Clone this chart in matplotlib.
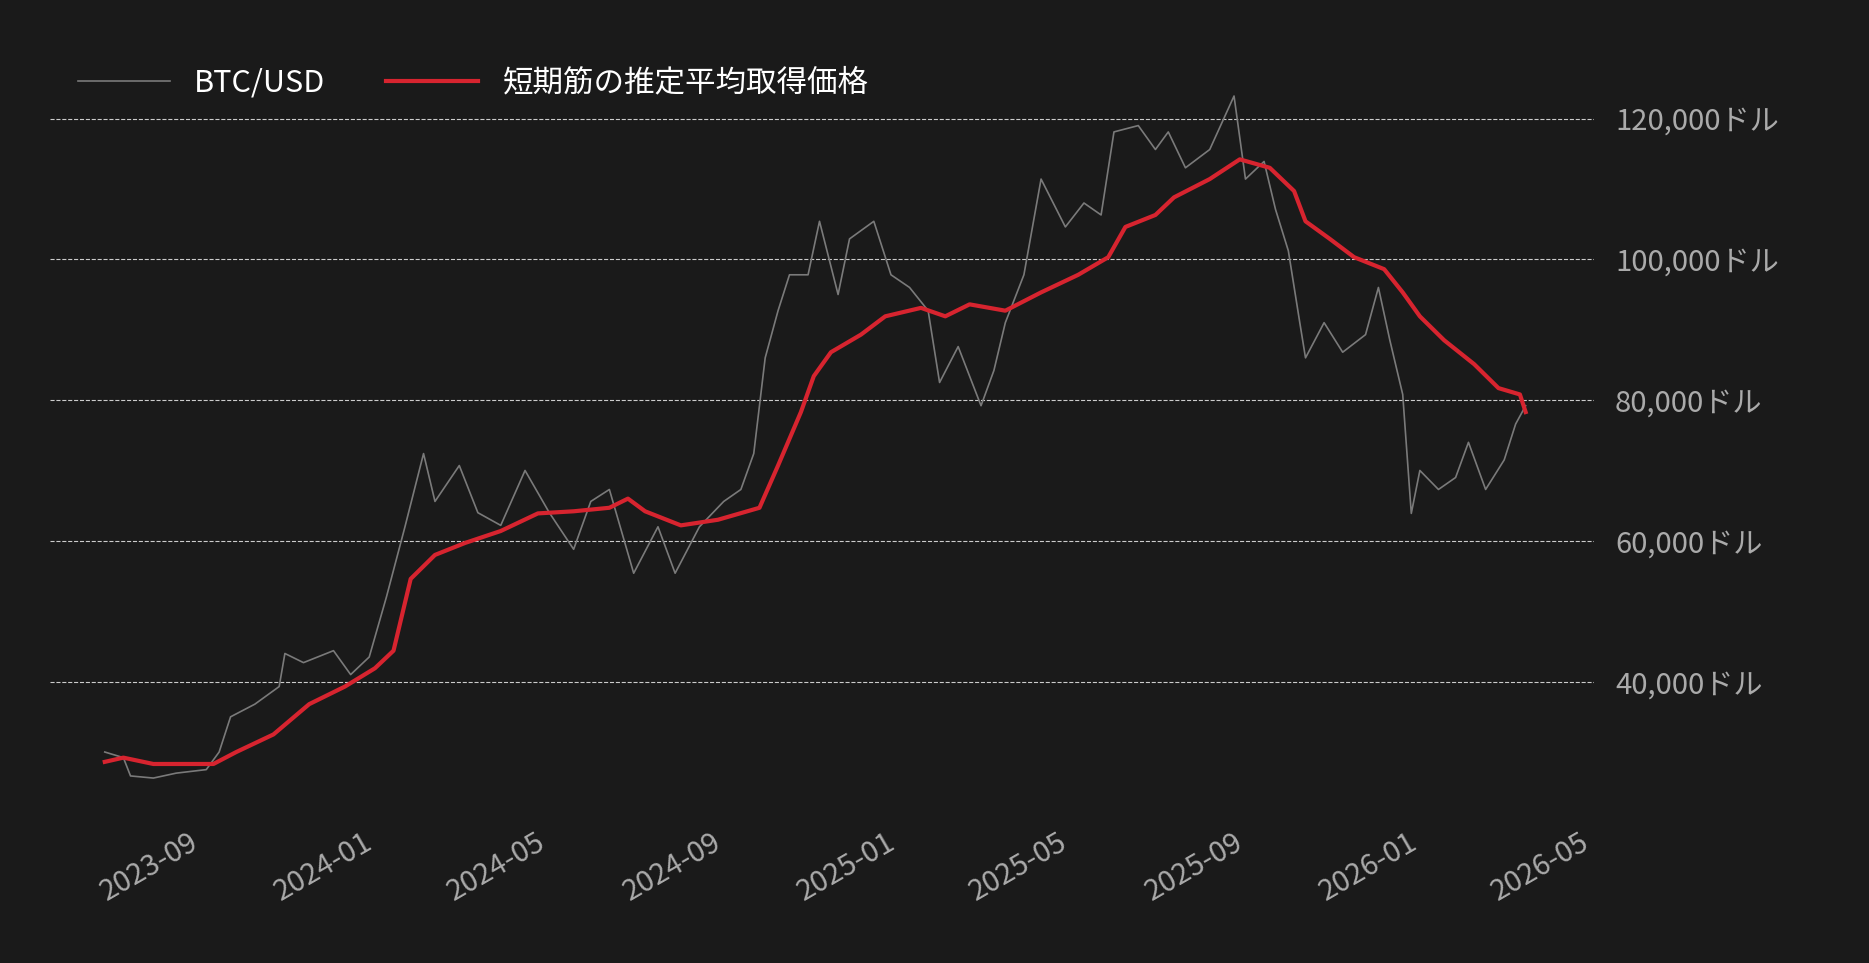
import numpy as np
import pandas as pd
import matplotlib
matplotlib.use("Agg")
import matplotlib.pyplot as plt
import matplotlib.dates as mdates
from matplotlib.ticker import FuncFormatter

plt.rcParams['font.family'] = ['Noto Sans CJK JP', 'DejaVu Sans']

start = pd.Timestamp("2023-06-24")

# BTC/USD (days from start, price in k USD)
btc_days = [0, 13, 18, 34, 50, 71, 80, 88, 105, 122, 126, 139, 160, 172, 185, 197, 210, 223, 231,
            248, 261, 277, 294, 311, 328, 340, 353, 370, 387, 399, 416, 433, 445, 454, 462, 471,
            479, 492, 500, 513, 521, 538, 550, 563, 576, 584, 597, 613, 622, 630, 643, 655, 672,
            685, 697, 706, 723, 735, 744, 756, 773, 790, 798, 811, 819, 828, 836, 840, 853, 866,
            882, 891, 899, 908, 914, 920, 933, 945, 954, 966, 979, 987, 994]
btc_vals = [30.0, 29.2, 26.6, 26.3, 27.0, 27.5, 30.0, 35.0, 36.8, 39.3, 44.0, 42.7, 44.4, 41.0,
            43.5, 52.0, 62.0, 72.4, 65.6, 70.7, 64.0, 62.2, 70.0, 64.0, 58.8, 65.6, 67.3, 55.4,
            62.0, 55.4, 62.0, 65.6, 67.3, 72.4, 86.0, 92.7, 97.8, 97.8, 105.4, 95.0, 102.9, 105.4,
            97.8, 96.0, 92.7, 82.5, 87.6, 79.2, 84.2, 91.0, 97.8, 111.4, 104.6, 108.0, 106.3,
            118.1, 119.0, 115.6, 118.1, 113.0, 115.6, 123.2, 111.4, 113.9, 107.1, 101.2, 91.0,
            86.0, 91.0, 86.8, 89.3, 96.0, 88.5, 80.8, 63.9, 70.0, 67.3, 69.0, 74.0, 67.3, 71.5,
            76.6, 79.2]

# short-term holder realized price
sth_days = [0, 13, 34, 76, 92, 118, 143, 168, 189, 202, 214, 231, 252, 277, 303, 328, 353, 366,
            378, 403, 429, 458, 471, 487, 496, 508, 529, 546, 571, 588, 605, 630, 655, 681, 702,
            714, 735, 748, 773, 794, 815, 832, 840, 857, 874, 895, 908, 920, 937, 958, 975, 990, 994]
sth_vals = [28.6, 29.2, 28.3, 28.3, 30.0, 32.5, 36.8, 39.3, 41.9, 44.4, 54.6, 58.0, 59.7, 61.4,
            63.9, 64.2, 64.7, 66.0, 64.2, 62.2, 63.0, 64.7, 70.7, 78.3, 83.4, 86.8, 89.3, 91.9,
            93.1, 91.9, 93.6, 92.7, 95.3, 97.8, 100.3, 104.6, 106.3, 108.8, 111.4, 114.2, 113.0,
            109.7, 105.4, 102.9, 100.3, 98.6, 95.3, 91.9, 88.5, 85.1, 81.7, 80.8, 78.3]

btc_x = start + pd.to_timedelta(btc_days, unit="D")
sth_x = start + pd.to_timedelta(sth_days, unit="D")

bg = "#1a1a1a"
fig = plt.figure(figsize=(18.69, 9.63), dpi=100, facecolor=bg)
ax = fig.add_axes([0.027, 0.146, 0.826, 0.804], facecolor=bg)

ax.plot(btc_x, np.array(btc_vals) * 1000, color="#7a7a7a", lw=1.2, label="BTC/USD")
ax.plot(sth_x, np.array(sth_vals) * 1000, color="#d7242f", lw=3, label="短期筋の推定平均取得価格")

ax.set_ylim(20000, 130000)
ax.set_xlim(pd.Timestamp("2023-05-17"), pd.Timestamp("2026-05-01"))
ax.set_yticks([40000, 60000, 80000, 100000, 120000])
ax.yaxis.set_major_formatter(FuncFormatter(lambda v, p: f"{int(v):,}ドル"))
ax.yaxis.tick_right()
ax.xaxis.set_major_locator(mdates.MonthLocator(bymonth=[1, 5, 9]))
ax.xaxis.set_major_formatter(mdates.DateFormatter("%Y-%m"))
for lab in ax.get_xticklabels():
    lab.set_rotation(30)
    lab.set_ha("right")
ax.tick_params(axis="both", length=0, colors="#aaaaaa", labelsize=21)
ax.tick_params(axis="y", pad=15)
ax.grid(axis="y", color="#cccccc", ls="--", lw=0.8)
for s in ax.spines.values():
    s.set_visible(False)

leg = ax.legend(loc="upper left", bbox_to_anchor=(0.0, 1.01), ncol=2, frameon=False,
                fontsize=22, labelcolor="white", handlelength=3, columnspacing=2)

fig.savefig("out.png", dpi=100, facecolor=bg)
